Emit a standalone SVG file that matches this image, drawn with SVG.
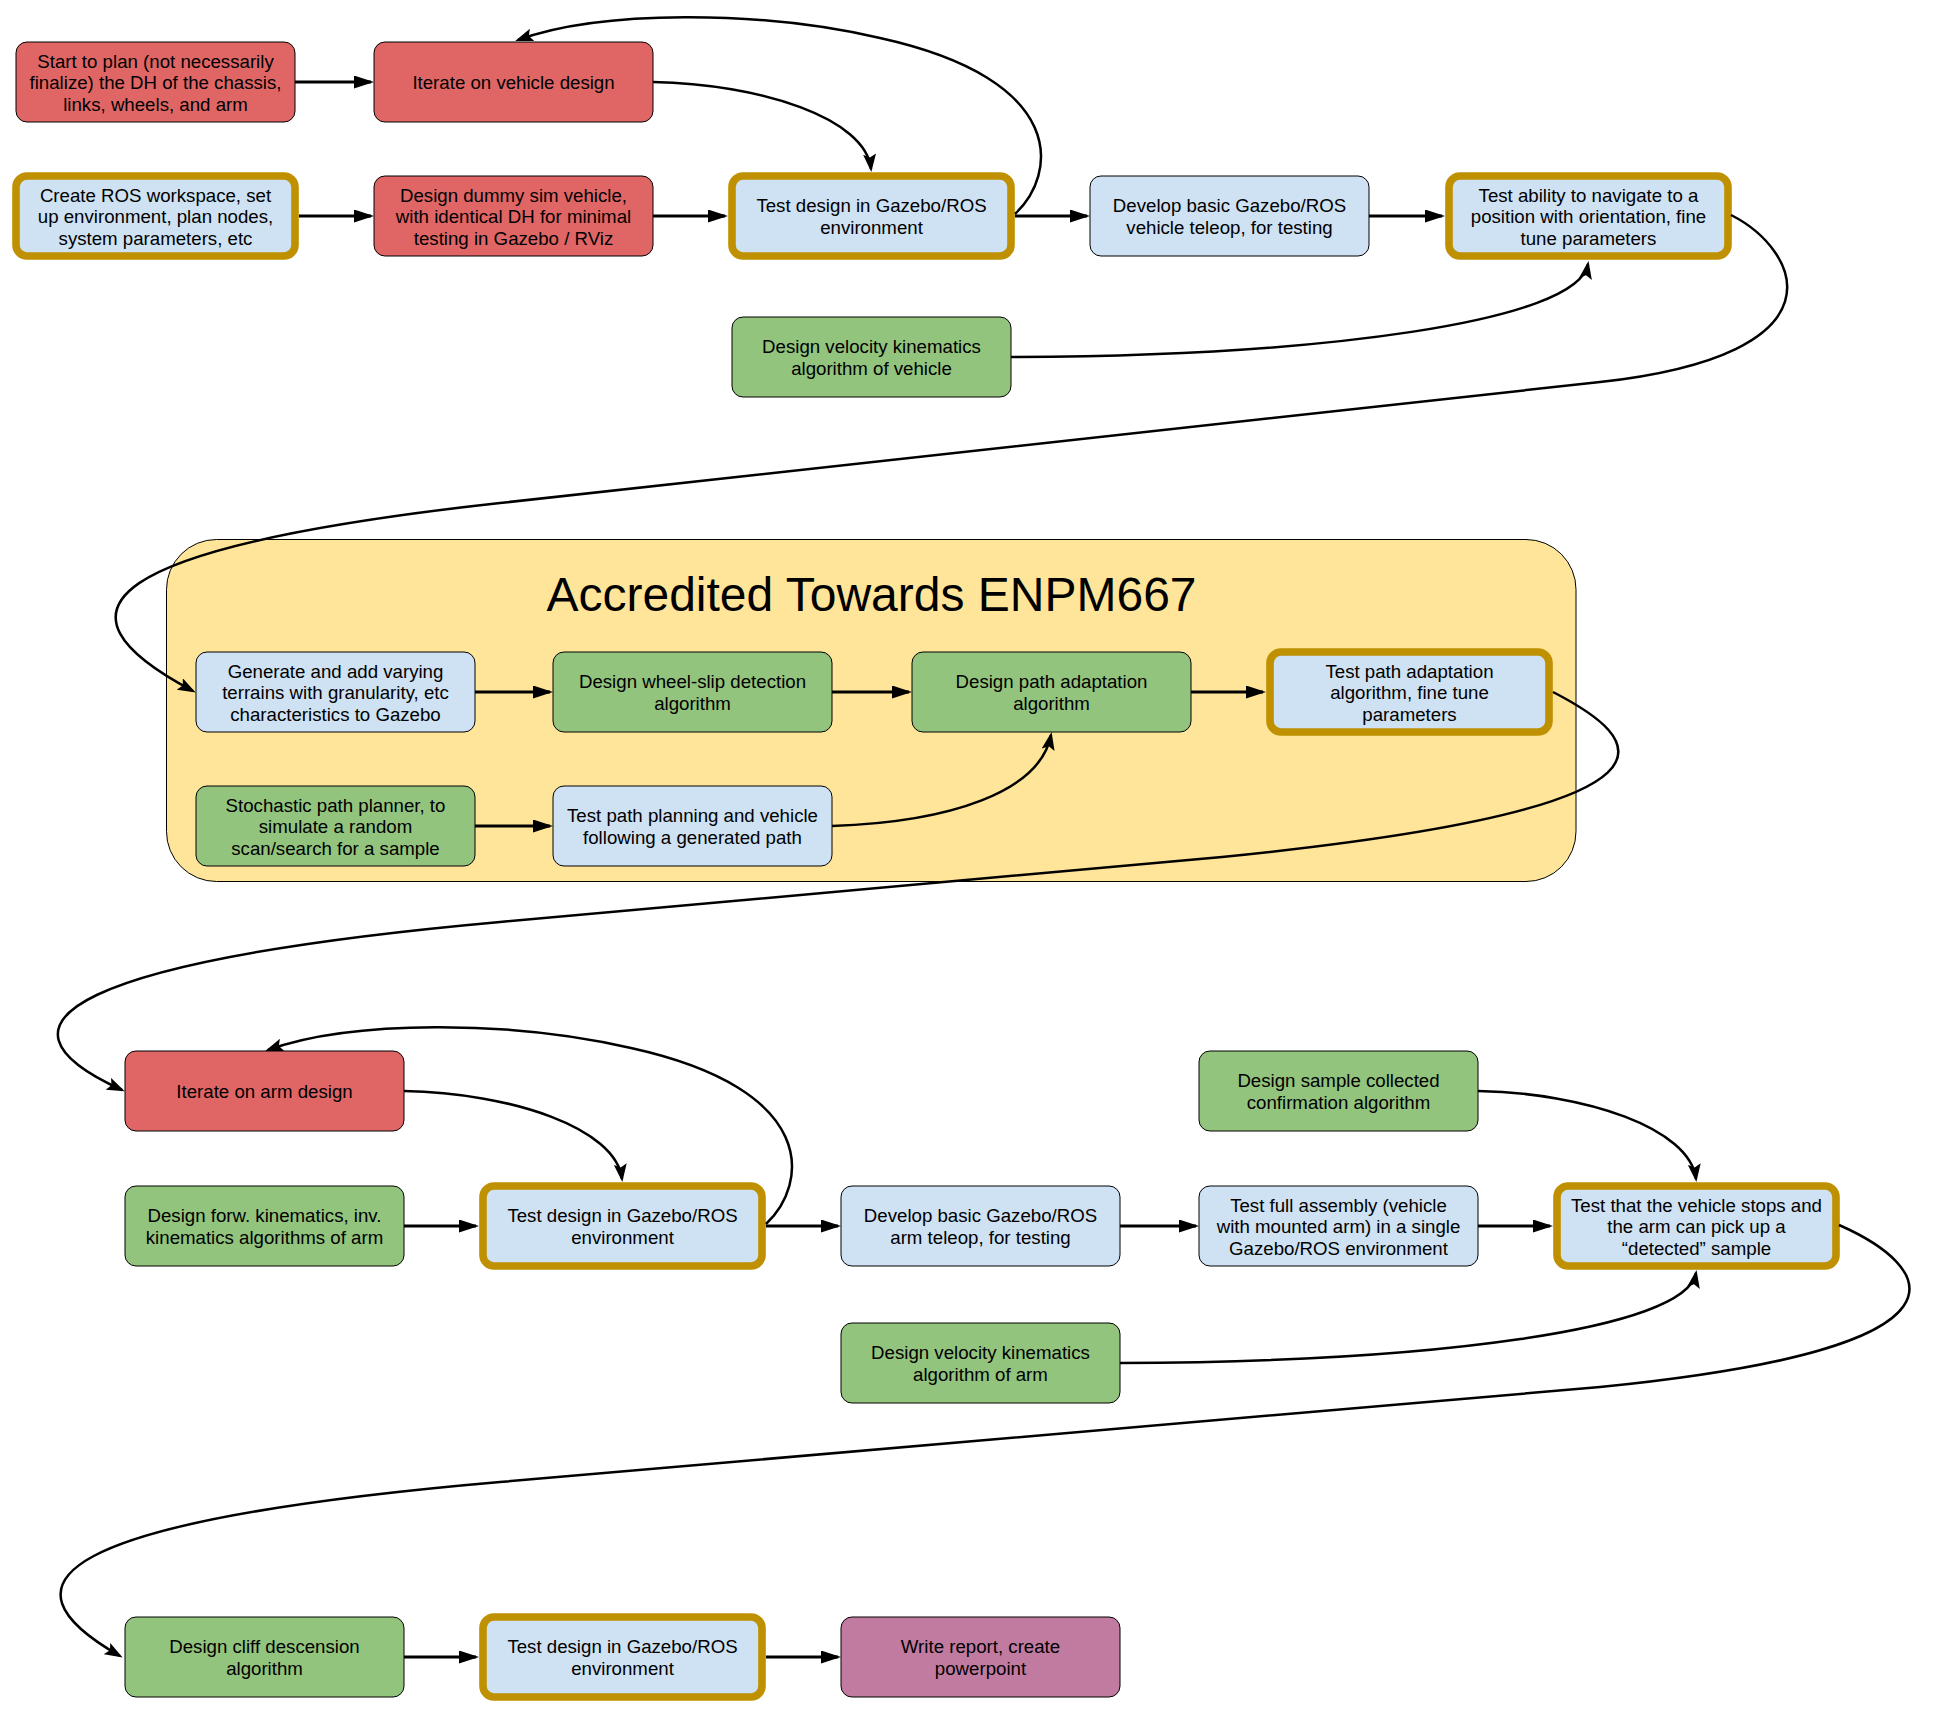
<svg xmlns="http://www.w3.org/2000/svg" width="1954" height="1726" viewBox="0 0 1954 1726">
<style>
.n rect{stroke:#000;stroke-width:1}
.red rect{fill:#E06666}
.blue rect{fill:#CFE2F3}
.green rect{fill:#93C47D}
.purple rect{fill:#C27BA0}
.gold rect{fill:#CFE2F3;stroke:#BF9000;stroke-width:7.6}
.n text{font-family:"Liberation Sans",Arial,sans-serif;font-size:18.67px;fill:#000;text-anchor:middle}
.c path{fill:none;stroke:#000}
.c .s{stroke-width:3.2;marker-end:url(#block)}
.c .v{stroke-width:2.5;marker-end:url(#classic)}
</style>
<defs>
<marker id="block" markerUnits="userSpaceOnUse" markerWidth="20" markerHeight="13" refX="17" refY="6.5" orient="auto"><path d="M0,0 L20,6.5 L0,13 z" fill="#000"/></marker>
<marker id="classic" markerUnits="userSpaceOnUse" markerWidth="18" markerHeight="13" refX="15" refY="6.5" orient="auto"><path d="M0,0 L18,6.5 L0,13 L3.5,6.5 z" fill="#000"/></marker>
</defs>
<rect width="1954" height="1726" fill="#fff"/>
<g id="container">
<rect x="166.5" y="539.5" width="1409.5" height="342" rx="50" fill="#FFE599" stroke="#000" stroke-width="1"/>
<text x="871.5" y="611" font-family="'Liberation Sans',Arial,sans-serif" font-size="48" text-anchor="middle" fill="#000">Accredited Towards ENPM667</text>
</g>
<g id="n1" class="n red"><rect x="16" y="42" width="279" height="80" rx="11"/><text><tspan x="155.5" y="67.5">Start to plan (not necessarily</tspan><tspan x="155.5" y="89.3">finalize) the DH of the chassis,</tspan><tspan x="155.5" y="111.1">links, wheels, and arm</tspan></text></g>
<g id="n2" class="n red"><rect x="374" y="42" width="279" height="80" rx="11"/><text><tspan x="513.5" y="89.3">Iterate on vehicle design</tspan></text></g>
<g id="n3" class="n gold"><rect x="16" y="176" width="279" height="80" rx="11"/><text><tspan x="155.5" y="201.5">Create ROS workspace, set</tspan><tspan x="155.5" y="223.3">up environment, plan nodes,</tspan><tspan x="155.5" y="245.1">system parameters, etc</tspan></text></g>
<g id="n4" class="n red"><rect x="374" y="176" width="279" height="80" rx="11"/><text><tspan x="513.5" y="201.5">Design dummy sim vehicle,</tspan><tspan x="513.5" y="223.3">with identical DH for minimal</tspan><tspan x="513.5" y="245.1">testing in Gazebo / RViz</tspan></text></g>
<g id="n5" class="n gold"><rect x="732" y="176" width="279" height="80" rx="11"/><text><tspan x="871.5" y="212.4">Test design in Gazebo/ROS</tspan><tspan x="871.5" y="234.2">environment</tspan></text></g>
<g id="n6" class="n blue"><rect x="1090" y="176" width="279" height="80" rx="11"/><text><tspan x="1229.5" y="212.4">Develop basic Gazebo/ROS</tspan><tspan x="1229.5" y="234.2">vehicle teleop, for testing</tspan></text></g>
<g id="n7" class="n gold"><rect x="1449" y="176" width="279" height="80" rx="11"/><text><tspan x="1588.5" y="201.5">Test ability to navigate to a</tspan><tspan x="1588.5" y="223.3">position with orientation, fine</tspan><tspan x="1588.5" y="245.1">tune parameters</tspan></text></g>
<g id="n8" class="n green"><rect x="732" y="317" width="279" height="80" rx="11"/><text><tspan x="871.5" y="353.4">Design velocity kinematics</tspan><tspan x="871.5" y="375.2">algorithm of vehicle</tspan></text></g>
<g id="n9" class="n blue"><rect x="196" y="652" width="279" height="80" rx="11"/><text><tspan x="335.5" y="677.5">Generate and add varying</tspan><tspan x="335.5" y="699.3">terrains with granularity, etc</tspan><tspan x="335.5" y="721.1">characteristics to Gazebo</tspan></text></g>
<g id="n10" class="n green"><rect x="553" y="652" width="279" height="80" rx="11"/><text><tspan x="692.5" y="688.4">Design wheel-slip detection</tspan><tspan x="692.5" y="710.2">algorithm</tspan></text></g>
<g id="n11" class="n green"><rect x="912" y="652" width="279" height="80" rx="11"/><text><tspan x="1051.5" y="688.4">Design path adaptation</tspan><tspan x="1051.5" y="710.2">algorithm</tspan></text></g>
<g id="n12" class="n gold"><rect x="1270" y="652" width="279" height="80" rx="11"/><text><tspan x="1409.5" y="677.5">Test path adaptation</tspan><tspan x="1409.5" y="699.3">algorithm, fine tune</tspan><tspan x="1409.5" y="721.1">parameters</tspan></text></g>
<g id="n13" class="n green"><rect x="196" y="786" width="279" height="80" rx="11"/><text><tspan x="335.5" y="811.5">Stochastic path planner, to</tspan><tspan x="335.5" y="833.3">simulate a random</tspan><tspan x="335.5" y="855.1">scan/search for a sample</tspan></text></g>
<g id="n14" class="n blue"><rect x="553" y="786" width="279" height="80" rx="11"/><text><tspan x="692.5" y="822.4">Test path planning and vehicle</tspan><tspan x="692.5" y="844.2">following a generated path</tspan></text></g>
<g id="n15" class="n red"><rect x="125" y="1051" width="279" height="80" rx="11"/><text><tspan x="264.5" y="1098.3">Iterate on arm design</tspan></text></g>
<g id="n16" class="n green"><rect x="1199" y="1051" width="279" height="80" rx="11"/><text><tspan x="1338.5" y="1087.4">Design sample collected</tspan><tspan x="1338.5" y="1109.2">confirmation algorithm</tspan></text></g>
<g id="n17" class="n green"><rect x="125" y="1186" width="279" height="80" rx="11"/><text><tspan x="264.5" y="1222.4">Design forw. kinematics, inv.</tspan><tspan x="264.5" y="1244.2">kinematics algorithms of arm</tspan></text></g>
<g id="n18" class="n gold"><rect x="483" y="1186" width="279" height="80" rx="11"/><text><tspan x="622.5" y="1222.4">Test design in Gazebo/ROS</tspan><tspan x="622.5" y="1244.2">environment</tspan></text></g>
<g id="n19" class="n blue"><rect x="841" y="1186" width="279" height="80" rx="11"/><text><tspan x="980.5" y="1222.4">Develop basic Gazebo/ROS</tspan><tspan x="980.5" y="1244.2">arm teleop, for testing</tspan></text></g>
<g id="n20" class="n blue"><rect x="1199" y="1186" width="279" height="80" rx="11"/><text><tspan x="1338.5" y="1211.5">Test full assembly (vehicle</tspan><tspan x="1338.5" y="1233.3">with mounted arm) in a single</tspan><tspan x="1338.5" y="1255.1">Gazebo/ROS environment</tspan></text></g>
<g id="n21" class="n gold"><rect x="1557" y="1186" width="279" height="80" rx="11"/><text><tspan x="1696.5" y="1211.5">Test that the vehicle stops and</tspan><tspan x="1696.5" y="1233.3">the arm can pick up a</tspan><tspan x="1696.5" y="1255.1">“detected” sample</tspan></text></g>
<g id="n22" class="n green"><rect x="841" y="1323" width="279" height="80" rx="11"/><text><tspan x="980.5" y="1359.4">Design velocity kinematics</tspan><tspan x="980.5" y="1381.2">algorithm of arm</tspan></text></g>
<g id="n23" class="n green"><rect x="125" y="1617" width="279" height="80" rx="11"/><text><tspan x="264.5" y="1653.4">Design cliff descension</tspan><tspan x="264.5" y="1675.2">algorithm</tspan></text></g>
<g id="n24" class="n gold"><rect x="483" y="1617" width="279" height="80" rx="11"/><text><tspan x="622.5" y="1653.4">Test design in Gazebo/ROS</tspan><tspan x="622.5" y="1675.2">environment</tspan></text></g>
<g id="n25" class="n purple"><rect x="841" y="1617" width="279" height="80" rx="11"/><text><tspan x="980.5" y="1653.4">Write report, create</tspan><tspan x="980.5" y="1675.2">powerpoint</tspan></text></g>
<g id="connectors" class="c">
<path class="s" d="M295 82 L371 82"/>
<path class="s" d="M299 216 L371 216"/>
<path class="s" d="M653 216 L725 216"/>
<path class="s" d="M1015 216 L1087 216"/>
<path class="s" d="M1369 216 L1442 216"/>
<path class="s" d="M475 692 L550 692"/>
<path class="s" d="M832 692 L909 692"/>
<path class="s" d="M1191 692 L1263 692"/>
<path class="s" d="M475 826 L550 826"/>
<path class="s" d="M404 1226 L476 1226"/>
<path class="s" d="M766 1226 L838 1226"/>
<path class="s" d="M1120 1226 L1196 1226"/>
<path class="s" d="M1478 1226 L1550 1226"/>
<path class="s" d="M404 1657 L476 1657"/>
<path class="s" d="M766 1657 L838 1657"/>
<path class="v" d="M653 82 C760 84, 866 118, 871 169"/>
<path class="v" d="M1015 214 C1057 175, 1070 80, 880 38 C760 10, 600 10, 518 40"/>
<path class="v" d="M1011 357 C1320 356, 1578 322, 1588 264"/>
<path class="v" d="M1731 215 C1800 250, 1850 354, 1600 382 L500 503 C100 547, 40 610, 193 691"/>
<path class="v" d="M832 826 C950 822, 1040 792, 1051 735"/>
<path class="v" d="M1553 692 C1640 737, 1722 807, 1222 857 L500 922 C80 960, -28 1022, 122 1090"/>
<path class="v" d="M404 1091 C511 1093, 616 1128, 622 1179"/>
<path class="v" d="M766 1224 C808 1185, 821 1090, 631 1048 C511 1020, 351 1020, 268 1050"/>
<path class="v" d="M1478 1091 C1585 1093, 1690 1128, 1696 1179"/>
<path class="v" d="M1120 1363 C1430 1362, 1686 1330, 1696 1273"/>
<path class="v" d="M1839 1225 C1930 1265, 2000 1347, 1600 1387 L500 1482 C50 1521, -8 1583, 120 1656"/>
</g>
</svg>
